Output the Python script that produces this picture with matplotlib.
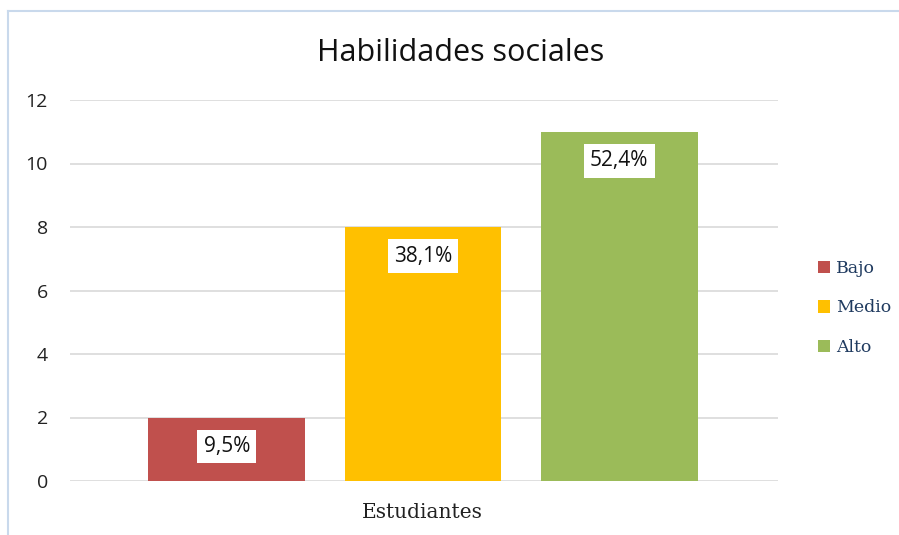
import matplotlib
matplotlib.use("Agg")
import matplotlib.pyplot as plt
from matplotlib.patches import Patch
from matplotlib.lines import Line2D

categories = ["Bajo", "Medio", "Alto"]
values = [2, 8, 11]
labels = ["9,5%", "38,1%", "52,4%"]
colors = ["#C0504D", "#FFC000", "#9BBB59"]
yticks = [0, 2, 4, 6, 8, 10, 12]
title = "Habilidades sociales"
xlabel = "Estudiantes"

W, H = 899, 535
fig = plt.figure(figsize=(W / 100, H / 100), dpi=100)
fig.patch.set_facecolor("white")

# light blue frame (top and left edges)
fig.add_artist(Line2D([8 / W, 8 / W], [0, 1 - 11 / H], transform=fig.transFigure,
                      color="#c9d9ec", lw=1.5))
fig.add_artist(Line2D([8 / W, 1], [1 - 11 / H, 1 - 11 / H], transform=fig.transFigure,
                      color="#c9d9ec", lw=1.5))

left, right = 70 / W, 778 / W
bottom, top = 1 - 481 / H, 1 - 100 / H
ax = fig.add_axes([left, bottom, right - left, top - bottom])
ax.set_facecolor("none")

x = list(range(len(values)))
ax.bar(x, values, width=0.8, color=colors, zorder=3)
ax.set_xlim(-0.8, 2.81)
ax.set_ylim(0, 12)
ax.set_yticks(yticks)
ax.set_yticklabels([str(t) for t in yticks], fontsize=14, family="Open Sans", color="#222222")
ax.tick_params(axis="y", length=0, pad=16)
ax.set_xticks([])
ax.yaxis.grid(True, color="#d9d9d9", lw=1.2, zorder=0)
ax.set_axisbelow(True)
for s in ax.spines.values():
    s.set_visible(False)

for xi, v, lab in zip(x, values, labels):
    ax.annotate(lab, (xi, v), xytext=(0, -21), textcoords="offset points",
                ha="center", va="center", fontsize=15, family="Open Sans", color="#111111",
                bbox=dict(boxstyle="square,pad=0.3", fc="white", ec="none"), zorder=5)

fig.text(461 / W, 1 - 53 / H, title, ha="center", va="center", fontsize=22,
         family="Open Sans", color="#111111")
fig.text(422 / W, 1 - 513 / H, xlabel, ha="center", va="center", fontsize=14.5,
         family="DejaVu Serif", color="#222222")

handles = [Patch(facecolor=c, edgecolor="none") for c in colors]
leg = fig.legend(handles, categories, loc="center left",
                 bbox_to_anchor=(809 / W, 1 - 308 / H), frameon=False,
                 prop={"family": "DejaVu Serif", "size": 12.5},
                 handlelength=0.7, handleheight=0.7, handletextpad=0.35,
                 labelspacing=1.3, borderpad=0)
for t in leg.get_texts():
    t.set_color("#1f3a5f")

fig.savefig("out.png", dpi=100, facecolor="white")
